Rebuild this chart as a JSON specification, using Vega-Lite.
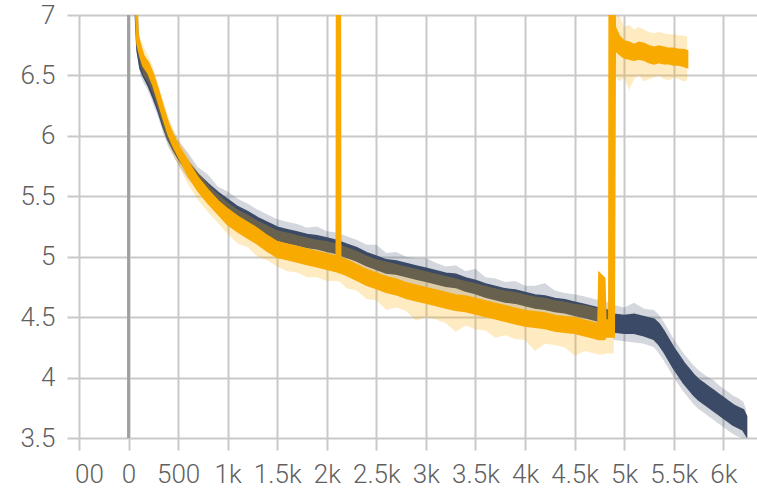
{
  "$schema": "https://vega.github.io/schema/vega-lite/v6.json",
  "width": 678,
  "height": 423,
  "autosize": {"type": "none"},
  "padding": {"left": 79, "top": 15, "right": 0, "bottom": 50},
  "background": "#ffffff",
  "view": {"stroke": null},
  "config": {
    "axis": {
      "grid": true,
      "gridColor": "#c9c9c9",
      "gridWidth": 2,
      "domain": false,
      "ticks": true,
      "tickColor": "#c9c9c9",
      "tickWidth": 2,
      "tickSize": 12,
      "labelFont": "Roboto",
      "labelFontSize": 26,
      "labelFontWeight": 300,
      "labelColor": "#5f5f5f",
      "labelOverlap": false,
      "labelFlush": false,
      "labelBound": false,
      "title": null
    }
  },
  "datasets": {
    "runs": [
      {"run": "run1", "step": 50, "lo": 7.4, "hi": 7.9, "rawLo": 7.3, "rawHi": 8.0},
      {"run": "run1", "step": 90, "lo": 6.71, "hi": 6.79, "rawLo": 6.66, "rawHi": 6.86},
      {"run": "run1", "step": 120, "lo": 6.56, "hi": 6.64, "rawLo": 6.5, "rawHi": 6.72},
      {"run": "run1", "step": 150, "lo": 6.5, "hi": 6.58, "rawLo": 6.44, "rawHi": 6.66},
      {"run": "run1", "step": 200, "lo": 6.42, "hi": 6.5, "rawLo": 6.37, "rawHi": 6.57},
      {"run": "run1", "step": 250, "lo": 6.32, "hi": 6.4, "rawLo": 6.26, "rawHi": 6.46},
      {"run": "run1", "step": 300, "lo": 6.21, "hi": 6.29, "rawLo": 6.15, "rawHi": 6.33},
      {"run": "run1", "step": 350, "lo": 6.08, "hi": 6.16, "rawLo": 6.02, "rawHi": 6.22},
      {"run": "run1", "step": 400, "lo": 5.97, "hi": 6.05, "rawLo": 5.91, "rawHi": 6.1},
      {"run": "run1", "step": 450, "lo": 5.89, "hi": 5.97, "rawLo": 5.84, "rawHi": 6.04},
      {"run": "run1", "step": 500, "lo": 5.82, "hi": 5.9, "rawLo": 5.76, "rawHi": 5.96},
      {"run": "run1", "step": 600, "lo": 5.7, "hi": 5.78, "rawLo": 5.64, "rawHi": 5.86},
      {"run": "run1", "step": 700, "lo": 5.6, "hi": 5.68, "rawLo": 5.55, "rawHi": 5.74},
      {"run": "run1", "step": 800, "lo": 5.52, "hi": 5.6, "rawLo": 5.46, "rawHi": 5.68},
      {"run": "run1", "step": 900, "lo": 5.44, "hi": 5.53, "rawLo": 5.38, "rawHi": 5.58},
      {"run": "run1", "step": 1000, "lo": 5.37, "hi": 5.47, "rawLo": 5.31, "rawHi": 5.54},
      {"run": "run1", "step": 1100, "lo": 5.31, "hi": 5.41, "rawLo": 5.25, "rawHi": 5.48},
      {"run": "run1", "step": 1200, "lo": 5.27, "hi": 5.37, "rawLo": 5.21, "rawHi": 5.44},
      {"run": "run1", "step": 1300, "lo": 5.22, "hi": 5.32, "rawLo": 5.16, "rawHi": 5.39},
      {"run": "run1", "step": 1400, "lo": 5.18, "hi": 5.28, "rawLo": 5.12, "rawHi": 5.35},
      {"run": "run1", "step": 1500, "lo": 5.14, "hi": 5.24, "rawLo": 5.08, "rawHi": 5.31},
      {"run": "run1", "step": 1600, "lo": 5.12, "hi": 5.22, "rawLo": 5.06, "rawHi": 5.29},
      {"run": "run1", "step": 1700, "lo": 5.1, "hi": 5.2, "rawLo": 5.04, "rawHi": 5.27},
      {"run": "run1", "step": 1800, "lo": 5.08, "hi": 5.18, "rawLo": 5.02, "rawHi": 5.24},
      {"run": "run1", "step": 1900, "lo": 5.07, "hi": 5.17, "rawLo": 5.01, "rawHi": 5.25},
      {"run": "run1", "step": 2000, "lo": 5.05, "hi": 5.15, "rawLo": 4.99, "rawHi": 5.21},
      {"run": "run1", "step": 2100, "lo": 5.03, "hi": 5.13, "rawLo": 4.97, "rawHi": 5.2},
      {"run": "run1", "step": 2200, "lo": 5.0, "hi": 5.1, "rawLo": 4.94, "rawHi": 5.17},
      {"run": "run1", "step": 2300, "lo": 4.97, "hi": 5.07, "rawLo": 4.91, "rawHi": 5.14},
      {"run": "run1", "step": 2400, "lo": 4.93, "hi": 5.03, "rawLo": 4.87, "rawHi": 5.1},
      {"run": "run1", "step": 2500, "lo": 4.9, "hi": 5.0, "rawLo": 4.84, "rawHi": 5.1},
      {"run": "run1", "step": 2600, "lo": 4.87, "hi": 4.97, "rawLo": 4.81, "rawHi": 5.03},
      {"run": "run1", "step": 2700, "lo": 4.86, "hi": 4.96, "rawLo": 4.8, "rawHi": 5.04},
      {"run": "run1", "step": 2800, "lo": 4.84, "hi": 4.94, "rawLo": 4.78, "rawHi": 5.0},
      {"run": "run1", "step": 2900, "lo": 4.82, "hi": 4.92, "rawLo": 4.76, "rawHi": 4.99},
      {"run": "run1", "step": 3000, "lo": 4.8, "hi": 4.9, "rawLo": 4.74, "rawHi": 4.99},
      {"run": "run1", "step": 3100, "lo": 4.78, "hi": 4.88, "rawLo": 4.72, "rawHi": 4.95},
      {"run": "run1", "step": 3200, "lo": 4.76, "hi": 4.86, "rawLo": 4.7, "rawHi": 4.92},
      {"run": "run1", "step": 3300, "lo": 4.75, "hi": 4.85, "rawLo": 4.69, "rawHi": 4.93},
      {"run": "run1", "step": 3400, "lo": 4.72, "hi": 4.82, "rawLo": 4.66, "rawHi": 4.88},
      {"run": "run1", "step": 3500, "lo": 4.7, "hi": 4.8, "rawLo": 4.64, "rawHi": 4.9},
      {"run": "run1", "step": 3600, "lo": 4.67, "hi": 4.77, "rawLo": 4.61, "rawHi": 4.83},
      {"run": "run1", "step": 3700, "lo": 4.65, "hi": 4.75, "rawLo": 4.59, "rawHi": 4.82},
      {"run": "run1", "step": 3800, "lo": 4.63, "hi": 4.73, "rawLo": 4.57, "rawHi": 4.79},
      {"run": "run1", "step": 3900, "lo": 4.62, "hi": 4.72, "rawLo": 4.56, "rawHi": 4.8},
      {"run": "run1", "step": 4000, "lo": 4.6, "hi": 4.7, "rawLo": 4.54, "rawHi": 4.76},
      {"run": "run1", "step": 4100, "lo": 4.58, "hi": 4.68, "rawLo": 4.52, "rawHi": 4.76},
      {"run": "run1", "step": 4200, "lo": 4.57, "hi": 4.67, "rawLo": 4.51, "rawHi": 4.78},
      {"run": "run1", "step": 4300, "lo": 4.55, "hi": 4.65, "rawLo": 4.49, "rawHi": 4.72},
      {"run": "run1", "step": 4400, "lo": 4.54, "hi": 4.64, "rawLo": 4.48, "rawHi": 4.7},
      {"run": "run1", "step": 4500, "lo": 4.52, "hi": 4.62, "rawLo": 4.46, "rawHi": 4.69},
      {"run": "run1", "step": 4600, "lo": 4.5, "hi": 4.6, "rawLo": 4.44, "rawHi": 4.67},
      {"run": "run1", "step": 4700, "lo": 4.48, "hi": 4.58, "rawLo": 4.42, "rawHi": 4.65},
      {"run": "run1", "step": 4800, "lo": 4.46, "hi": 4.56, "rawLo": 4.4, "rawHi": 4.63},
      {"run": "run1", "step": 4850, "lo": 4.43, "hi": 4.55, "rawLo": 4.37, "rawHi": 4.62},
      {"run": "run1", "step": 4900, "lo": 4.38, "hi": 4.52, "rawLo": 4.31, "rawHi": 4.6},
      {"run": "run1", "step": 5000, "lo": 4.37, "hi": 4.51, "rawLo": 4.3, "rawHi": 4.58},
      {"run": "run1", "step": 5100, "lo": 4.37, "hi": 4.52, "rawLo": 4.29, "rawHi": 4.62},
      {"run": "run1", "step": 5200, "lo": 4.35, "hi": 4.5, "rawLo": 4.28, "rawHi": 4.57},
      {"run": "run1", "step": 5300, "lo": 4.32, "hi": 4.48, "rawLo": 4.25, "rawHi": 4.56},
      {"run": "run1", "step": 5350, "lo": 4.28, "hi": 4.44, "rawLo": 4.2, "rawHi": 4.52},
      {"run": "run1", "step": 5400, "lo": 4.22, "hi": 4.38, "rawLo": 4.14, "rawHi": 4.46},
      {"run": "run1", "step": 5450, "lo": 4.15, "hi": 4.31, "rawLo": 4.07, "rawHi": 4.39},
      {"run": "run1", "step": 5500, "lo": 4.08, "hi": 4.24, "rawLo": 4.0, "rawHi": 4.32},
      {"run": "run1", "step": 5550, "lo": 4.02, "hi": 4.18, "rawLo": 3.94, "rawHi": 4.26},
      {"run": "run1", "step": 5600, "lo": 3.96, "hi": 4.12, "rawLo": 3.88, "rawHi": 4.2},
      {"run": "run1", "step": 5650, "lo": 3.91, "hi": 4.07, "rawLo": 3.83, "rawHi": 4.15},
      {"run": "run1", "step": 5700, "lo": 3.86, "hi": 4.02, "rawLo": 3.78, "rawHi": 4.1},
      {"run": "run1", "step": 5750, "lo": 3.82, "hi": 3.98, "rawLo": 3.74, "rawHi": 4.06},
      {"run": "run1", "step": 5800, "lo": 3.79, "hi": 3.95, "rawLo": 3.71, "rawHi": 4.03},
      {"run": "run1", "step": 5850, "lo": 3.76, "hi": 3.92, "rawLo": 3.68, "rawHi": 4.0},
      {"run": "run1", "step": 5900, "lo": 3.73, "hi": 3.89, "rawLo": 3.65, "rawHi": 3.98},
      {"run": "run1", "step": 5950, "lo": 3.7, "hi": 3.86, "rawLo": 3.62, "rawHi": 3.94},
      {"run": "run1", "step": 6000, "lo": 3.67, "hi": 3.83, "rawLo": 3.59, "rawHi": 3.91},
      {"run": "run1", "step": 6050, "lo": 3.64, "hi": 3.8, "rawLo": 3.56, "rawHi": 3.88},
      {"run": "run1", "step": 6100, "lo": 3.61, "hi": 3.77, "rawLo": 3.53, "rawHi": 3.85},
      {"run": "run1", "step": 6150, "lo": 3.59, "hi": 3.75, "rawLo": 3.51, "rawHi": 3.83},
      {"run": "run1", "step": 6200, "lo": 3.57, "hi": 3.73, "rawLo": 3.5, "rawHi": 3.8},
      {"run": "run1", "step": 6230, "lo": 3.53, "hi": 3.68, "rawLo": 3.5, "rawHi": 3.74},

      {"run": "run2", "step": 50, "lo": 7.5, "hi": 7.9, "rawLo": 7.4, "rawHi": 8.0},
      {"run": "run2", "step": 90, "lo": 6.76, "hi": 6.84, "rawLo": 6.7, "rawHi": 6.92},
      {"run": "run2", "step": 120, "lo": 6.66, "hi": 6.74, "rawLo": 6.58, "rawHi": 6.8},
      {"run": "run2", "step": 150, "lo": 6.58, "hi": 6.66, "rawLo": 6.5, "rawHi": 6.74},
      {"run": "run2", "step": 200, "lo": 6.52, "hi": 6.6, "rawLo": 6.44, "rawHi": 6.66},
      {"run": "run2", "step": 250, "lo": 6.42, "hi": 6.5, "rawLo": 6.34, "rawHi": 6.56},
      {"run": "run2", "step": 300, "lo": 6.29, "hi": 6.37, "rawLo": 6.21, "rawHi": 6.43},
      {"run": "run2", "step": 350, "lo": 6.15, "hi": 6.23, "rawLo": 6.07, "rawHi": 6.29},
      {"run": "run2", "step": 400, "lo": 6.02, "hi": 6.1, "rawLo": 5.94, "rawHi": 6.16},
      {"run": "run2", "step": 450, "lo": 5.92, "hi": 6.0, "rawLo": 5.84, "rawHi": 6.06},
      {"run": "run2", "step": 500, "lo": 5.84, "hi": 5.92, "rawLo": 5.76, "rawHi": 5.98},
      {"run": "run2", "step": 600, "lo": 5.68, "hi": 5.78, "rawLo": 5.6, "rawHi": 5.84},
      {"run": "run2", "step": 700, "lo": 5.55, "hi": 5.65, "rawLo": 5.47, "rawHi": 5.7},
      {"run": "run2", "step": 800, "lo": 5.45, "hi": 5.55, "rawLo": 5.37, "rawHi": 5.6},
      {"run": "run2", "step": 900, "lo": 5.36, "hi": 5.46, "rawLo": 5.28, "rawHi": 5.52},
      {"run": "run2", "step": 1000, "lo": 5.27, "hi": 5.39, "rawLo": 5.19, "rawHi": 5.45},
      {"run": "run2", "step": 1100, "lo": 5.21, "hi": 5.33, "rawLo": 5.11, "rawHi": 5.39},
      {"run": "run2", "step": 1200, "lo": 5.16, "hi": 5.28, "rawLo": 5.08, "rawHi": 5.35},
      {"run": "run2", "step": 1300, "lo": 5.11, "hi": 5.23, "rawLo": 5.0, "rawHi": 5.3},
      {"run": "run2", "step": 1400, "lo": 5.05, "hi": 5.17, "rawLo": 4.97, "rawHi": 5.26},
      {"run": "run2", "step": 1500, "lo": 5.0, "hi": 5.12, "rawLo": 4.92, "rawHi": 5.22},
      {"run": "run2", "step": 1600, "lo": 4.98, "hi": 5.1, "rawLo": 4.88, "rawHi": 5.2},
      {"run": "run2", "step": 1700, "lo": 4.96, "hi": 5.08, "rawLo": 4.87, "rawHi": 5.18},
      {"run": "run2", "step": 1800, "lo": 4.94, "hi": 5.06, "rawLo": 4.83, "rawHi": 5.16},
      {"run": "run2", "step": 1900, "lo": 4.92, "hi": 5.04, "rawLo": 4.83, "rawHi": 5.14},
      {"run": "run2", "step": 2000, "lo": 4.9, "hi": 5.02, "rawLo": 4.8, "rawHi": 5.13},
      {"run": "run2", "step": 2100, "lo": 4.88, "hi": 5.0, "rawLo": 4.8, "rawHi": 5.11},
      {"run": "run2", "step": 2105, "lo": 4.88, "hi": 8.5, "rawLo": 4.8, "rawHi": 5.11},
      {"run": "run2", "step": 2130, "lo": 4.87, "hi": 8.5, "rawLo": 4.79, "rawHi": 5.1},
      {"run": "run2", "step": 2135, "lo": 4.87, "hi": 4.99, "rawLo": 4.79, "rawHi": 5.1},
      {"run": "run2", "step": 2200, "lo": 4.85, "hi": 4.97, "rawLo": 4.74, "rawHi": 5.08},
      {"run": "run2", "step": 2300, "lo": 4.81, "hi": 4.93, "rawLo": 4.72, "rawHi": 5.05},
      {"run": "run2", "step": 2400, "lo": 4.77, "hi": 4.89, "rawLo": 4.65, "rawHi": 5.01},
      {"run": "run2", "step": 2500, "lo": 4.74, "hi": 4.86, "rawLo": 4.64, "rawHi": 4.98},
      {"run": "run2", "step": 2600, "lo": 4.71, "hi": 4.83, "rawLo": 4.56, "rawHi": 4.96},
      {"run": "run2", "step": 2700, "lo": 4.69, "hi": 4.81, "rawLo": 4.58, "rawHi": 4.94},
      {"run": "run2", "step": 2800, "lo": 4.66, "hi": 4.78, "rawLo": 4.55, "rawHi": 4.92},
      {"run": "run2", "step": 2900, "lo": 4.64, "hi": 4.76, "rawLo": 4.47, "rawHi": 4.9},
      {"run": "run2", "step": 3000, "lo": 4.62, "hi": 4.74, "rawLo": 4.5, "rawHi": 4.88},
      {"run": "run2", "step": 3100, "lo": 4.6, "hi": 4.72, "rawLo": 4.48, "rawHi": 4.86},
      {"run": "run2", "step": 3200, "lo": 4.58, "hi": 4.7, "rawLo": 4.45, "rawHi": 4.84},
      {"run": "run2", "step": 3300, "lo": 4.56, "hi": 4.68, "rawLo": 4.38, "rawHi": 4.82},
      {"run": "run2", "step": 3400, "lo": 4.55, "hi": 4.67, "rawLo": 4.43, "rawHi": 4.8},
      {"run": "run2", "step": 3500, "lo": 4.53, "hi": 4.65, "rawLo": 4.4, "rawHi": 4.78},
      {"run": "run2", "step": 3600, "lo": 4.51, "hi": 4.63, "rawLo": 4.39, "rawHi": 4.76},
      {"run": "run2", "step": 3700, "lo": 4.49, "hi": 4.61, "rawLo": 4.33, "rawHi": 4.74},
      {"run": "run2", "step": 3800, "lo": 4.47, "hi": 4.59, "rawLo": 4.35, "rawHi": 4.72},
      {"run": "run2", "step": 3900, "lo": 4.45, "hi": 4.57, "rawLo": 4.32, "rawHi": 4.71},
      {"run": "run2", "step": 4000, "lo": 4.43, "hi": 4.55, "rawLo": 4.31, "rawHi": 4.69},
      {"run": "run2", "step": 4100, "lo": 4.42, "hi": 4.54, "rawLo": 4.22, "rawHi": 4.67},
      {"run": "run2", "step": 4200, "lo": 4.41, "hi": 4.53, "rawLo": 4.28, "rawHi": 4.66},
      {"run": "run2", "step": 4300, "lo": 4.39, "hi": 4.51, "rawLo": 4.27, "rawHi": 4.64},
      {"run": "run2", "step": 4400, "lo": 4.38, "hi": 4.5, "rawLo": 4.25, "rawHi": 4.63},
      {"run": "run2", "step": 4500, "lo": 4.37, "hi": 4.49, "rawLo": 4.18, "rawHi": 4.61},
      {"run": "run2", "step": 4600, "lo": 4.35, "hi": 4.47, "rawLo": 4.22, "rawHi": 4.6},
      {"run": "run2", "step": 4700, "lo": 4.33, "hi": 4.45, "rawLo": 4.2, "rawHi": 4.58},
      {"run": "run2", "step": 4740, "lo": 4.32, "hi": 4.44, "rawLo": 4.19, "rawHi": 4.57},
      {"run": "run2", "step": 4750, "lo": 4.32, "hi": 4.86, "rawLo": 4.19, "rawHi": 4.57},
      {"run": "run2", "step": 4800, "lo": 4.32, "hi": 4.82, "rawLo": 4.19, "rawHi": 4.57},
      {"run": "run2", "step": 4810, "lo": 4.34, "hi": 4.46, "rawLo": 4.2, "rawHi": 4.56},
      {"run": "run2", "step": 4850, "lo": 4.34, "hi": 4.48, "rawLo": 4.2, "rawHi": 4.56},
      {"run": "run2", "step": 4855, "lo": 4.34, "hi": 8.5, "rawLo": 4.2, "rawHi": 4.56},
      {"run": "run2", "step": 4895, "lo": 4.34, "hi": 8.5, "rawLo": 4.2, "rawHi": 4.56},
      {"run": "run2", "step": 4905, "lo": 6.72, "hi": 6.9, "rawLo": 6.5, "rawHi": 6.98},
      {"run": "run2", "step": 4950, "lo": 6.68, "hi": 6.82, "rawLo": 6.45, "rawHi": 7.0},
      {"run": "run2", "step": 5000, "lo": 6.65, "hi": 6.78, "rawLo": 6.48, "rawHi": 6.9},
      {"run": "run2", "step": 5050, "lo": 6.64, "hi": 6.77, "rawLo": 6.38, "rawHi": 6.92},
      {"run": "run2", "step": 5100, "lo": 6.63, "hi": 6.75, "rawLo": 6.47, "rawHi": 6.88},
      {"run": "run2", "step": 5150, "lo": 6.64, "hi": 6.77, "rawLo": 6.5, "rawHi": 6.9},
      {"run": "run2", "step": 5200, "lo": 6.63, "hi": 6.76, "rawLo": 6.45, "rawHi": 6.88},
      {"run": "run2", "step": 5250, "lo": 6.61, "hi": 6.74, "rawLo": 6.47, "rawHi": 6.86},
      {"run": "run2", "step": 5300, "lo": 6.6, "hi": 6.73, "rawLo": 6.48, "rawHi": 6.85},
      {"run": "run2", "step": 5350, "lo": 6.61, "hi": 6.74, "rawLo": 6.5, "rawHi": 6.86},
      {"run": "run2", "step": 5400, "lo": 6.6, "hi": 6.73, "rawLo": 6.47, "rawHi": 6.85},
      {"run": "run2", "step": 5450, "lo": 6.6, "hi": 6.72, "rawLo": 6.46, "rawHi": 6.84},
      {"run": "run2", "step": 5500, "lo": 6.59, "hi": 6.72, "rawLo": 6.48, "rawHi": 6.84},
      {"run": "run2", "step": 5550, "lo": 6.59, "hi": 6.71, "rawLo": 6.47, "rawHi": 6.83},
      {"run": "run2", "step": 5600, "lo": 6.58, "hi": 6.71, "rawLo": 6.45, "rawHi": 6.83},
      {"run": "run2", "step": 5635, "lo": 6.57, "hi": 6.7, "rawLo": 6.46, "rawHi": 6.82}
    ]
  },
  "layer": [
    {
      "data": {"values": [{}]},
      "mark": {"type": "rule", "color": "#a0a0a0", "strokeWidth": 3},
      "encoding": {"x": {"datum": 0, "type": "quantitative"}}
    },
    {
      "data": {"name": "runs"},
      "encoding": {
        "x": {
          "field": "step",
          "type": "quantitative",
          "scale": {"domain": [-500, 6340], "nice": false, "zero": false},
          "axis": {
            "title": null,
            "values": [-500, 0, 500, 1000, 1500, 2000, 2500, 3000, 3500, 4000, 4500, 5000, 5500, 6000],
            "labelPadding": 11,
            "labelOffset": {"condition": {"test": "datum.value == -500", "value": 10}, "value": 0},
            "labelExpr": "datum.value == -500 ? '00' : datum.value == 0 ? '0' : abs(datum.value) < 1000 ? format(datum.value, 'd') : format(datum.value / 1000, '~g') + 'k'"
          }
        },
        "y": {
          "field": "lo",
          "type": "quantitative",
          "scale": {"domain": [3.5, 7], "nice": false, "zero": false},
          "axis": {
            "title": null,
            "values": [3.5, 4, 4.5, 5, 5.5, 6, 6.5, 7],
            "format": "~g",
            "labelPadding": 12
          }
        },
        "y2": {"field": "hi"}
      },
      "layer": [
        {
          "transform": [{"filter": "datum.run == 'run1'"}],
          "mark": {"type": "area", "clip": true, "color": "#3b4a66", "opacity": 0.22},
          "encoding": {"y": {"field": "rawLo", "type": "quantitative"}, "y2": {"field": "rawHi"}}
        },
        {
          "transform": [{"filter": "datum.run == 'run1'"}],
          "mark": {"type": "area", "clip": true, "color": "#3b4a66", "stroke": "#3b4a66", "strokeWidth": 2.5}
        },
        {
          "transform": [{"filter": "datum.run == 'run2'"}],
          "mark": {"type": "area", "clip": true, "color": "#f9aa00", "opacity": 0.24},
          "encoding": {"y": {"field": "rawLo", "type": "quantitative"}, "y2": {"field": "rawHi"}}
        },
        {
          "transform": [{"filter": "datum.run == 'run2'"}],
          "mark": {"type": "area", "clip": true, "color": "#f9aa00", "stroke": "#f9aa00", "strokeWidth": 2.5}
        }
      ]
    }
  ]
}
